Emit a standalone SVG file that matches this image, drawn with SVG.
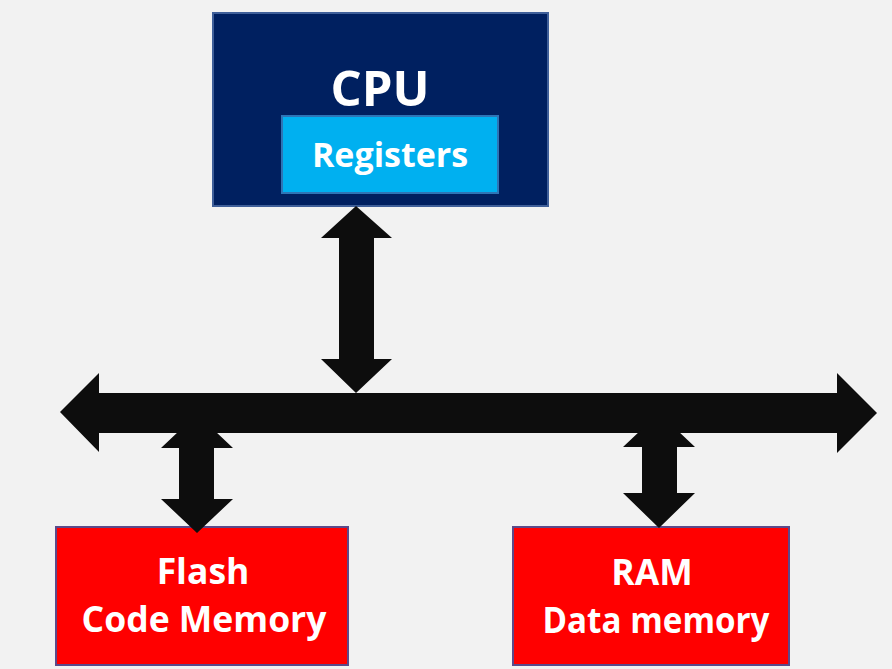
<svg xmlns="http://www.w3.org/2000/svg" width="892" height="669" viewBox="0 0 892 669">
<style>
.lbl{font-family:"Open Sans","Noto Sans","Liberation Sans",sans-serif;font-weight:bold;fill:#ffffff;text-anchor:middle}
.mem{fill:#ff0000;stroke:#5b4a8a;stroke-width:2}
.arr{fill:#0d0d0d}
</style>
<rect x="0" y="0" width="892" height="669" fill="#f2f2f2"/>
<g id="cpu">
<rect x="213" y="13" width="335" height="193" fill="#002060" stroke="#3f5f99" stroke-width="2"/>
<text class="lbl" x="380" y="106" font-size="49">CPU</text>
</g>
<g id="registers">
<rect x="282" y="116" width="216" height="77" fill="#00b0f0" stroke="#2e75b6" stroke-width="2"/>
<text class="lbl" x="390" y="167" font-size="34">Registers</text>
</g>
<g id="flash">
<rect class="mem" x="56" y="527" width="292" height="138"/>
<text class="lbl" x="203" y="584" font-size="35.5">Flash</text>
<text class="lbl" x="204" y="632" font-size="35.5">Code Memory</text>
</g>
<g id="ram">
<rect class="mem" x="513" y="527" width="276" height="138"/>
<text class="lbl" x="652" y="585" font-size="35.5">RAM</text>
<text class="lbl" x="656" y="633" font-size="35.5" textLength="227" lengthAdjust="spacingAndGlyphs">Data memory</text>
</g>
<g id="connectors">
<polygon class="arr" points="356,206 392,238 374,238 374,359 392,359 356,393 321,359 339,359 339,238 321,238"/>
<polygon class="arr" points="60,412 99,373 99,393 837,393 837,373 877,413 837,453 837,433 99,433 99,452"/>
<polygon class="arr" points="197,414 233,448 214,448 214,499 233,499 197,533 161,499 179,499 179,448 161,448"/>
<polygon class="arr" points="659,413 695,447 677,447 677,493 695,493 659,528 623,493 642,493 642,447 623,447"/>
</g>
</svg>
